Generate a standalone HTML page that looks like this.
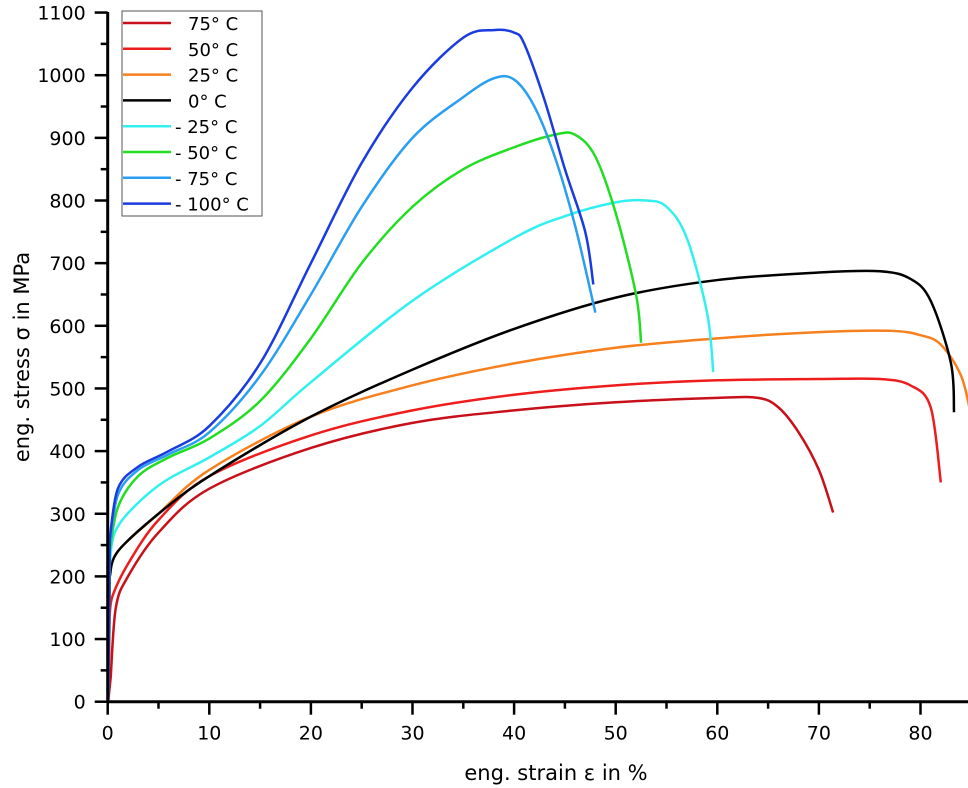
<!DOCTYPE html>
<html><head><meta charset="utf-8"><style>
body{margin:0;background:#fff;}
svg{display:block;font-family:"DejaVu Sans","Liberation Sans",sans-serif;}
</style></head><body>
<svg id="chart" width="968" height="788" viewBox="0 0 968 788"></svg>
<script>
const xTicks=[0,10,20,30,40,50,60,70,80];
const yTicks=[0,100,200,300,400,500,600,700,800,900,1000,1100];
const seriesNames=["75° C","50° C","25° C","0° C","- 25° C","- 50° C","- 75° C","- 100° C"];
const seriesColors=["#c8101a","#ee1c1c","#f7801e","#000000","#33f0f0","#22dd22","#2a9ef0","#1a3be0"];
const s75x=[0.3,0.8,2,5,10,20,30,40,50,60,64,66,68,70,71.4];
const s75y=[40,150,200,270,340,405,445,465,478,485,485,470,430,370,302];
const s50x=[0.2,0.5,2,5,10,20,30,40,50,60,70,76,79,81,82];
const s50y=[140,170,220,290,360,425,465,490,505,513,515,515,505,470,350];
const s25x=[0.2,1,5,10,20,30,40,50,60,70,77,80,82,84,85];
const s25y=[200,240,300,370,455,505,540,565,580,590,592,585,570,520,455];
const s0x=[0.2,1,5,10,20,30,40,50,60,70,76,79,81,83,83.3];
const s0y=[200,240,300,360,455,530,595,645,673,685,687,675,640,540,462];
const m25x=[0.2,1,5,10,15,20,30,40,45,50,53,55,57,59,59.6];
const m25y=[220,280,345,390,440,510,640,740,775,797,800,790,740,620,526];
const m50x=[0.2,1,3,6,10,15,20,25,30,35,40,44,46,48,50,52,52.5];
const m50y=[240,310,360,390,420,480,580,700,790,850,885,905,905,870,780,650,573];
const m75x=[0.2,1,3,6,10,15,20,25,30,35,38,40,42,44,46,48];
const m75y=[250,330,370,395,430,520,650,790,900,965,995,993,950,870,760,621];
const m100x=[0.2,1,3,6,10,15,20,25,30,35,38,40,41,43,45,47,47.8];
const m100y=[260,340,375,400,440,540,700,860,980,1060,1072,1068,1050,960,850,750,666];
const allX=[s75x,s50x,s25x,s0x,m25x,m50x,m75x,m100x];
const allY=[s75y,s50y,s25y,s0y,m25y,m50y,m75y,m100y];

const svg=document.getElementById('chart');
const NS="http://www.w3.org/2000/svg";
const X0=107.7,PX=10.16,Y0=701.7,PY=0.6265;
function sx(v){return X0+v*PX;}
function sy(v){return Y0-v*PY;}
function el(t,a){const e=document.createElementNS(NS,t);for(const k in a)e.setAttribute(k,a[k]);svg.appendChild(e);return e;}

for(let i=0;i<allX.length;i++){
  const pts=allX[i].map((x,j)=>[sx(x),sy(allY[i][j])]);
  let d="";
  for(let j=0;j<pts.length-1;j++){
    const p0=pts[Math.max(0,j-1)],p1=pts[j],p2=pts[j+1],p3=pts[Math.min(pts.length-1,j+2)];
    const c1=[p1[0]+(p2[0]-p0[0])/6,p1[1]+(p2[1]-p0[1])/6];
    const c2=[p2[0]-(p3[0]-p1[0])/6,p2[1]-(p3[1]-p1[1])/6];
    d+=" C"+c1[0]+","+c1[1]+" "+c2[0]+","+c2[1]+" "+p2[0]+","+p2[1];
  }
  const path=el('path',{d:"M"+sx(0.05)+","+sy(0)+" L"+pts[0][0]+","+pts[0][1]+d,fill:"none",stroke:seriesColors[i],"stroke-width":2.5});
  
  
}

const ya=el('line',{x1:X0,y1:12,x2:X0,y2:Y0+1,stroke:"#000","stroke-width":3});


const xa=el('line',{x1:X0-1,y1:Y0,x2:968,y2:Y0,stroke:"#000","stroke-width":3});


for(const v of yTicks){
  el('line',{x1:X0-13,y1:sy(v),x2:X0,y2:sy(v),stroke:"#000","stroke-width":2.5});
  if(v<1100)el('line',{x1:X0-7,y1:sy(v+50),x2:X0,y2:sy(v+50),stroke:"#000","stroke-width":2.5});
  const t=el('text',{x:X0-22,y:sy(v)+7,"text-anchor":"end","font-size":19});
  t.textContent=v;
  
  
}
for(const v of xTicks){
  el('line',{x1:sx(v),y1:Y0,x2:sx(v),y2:Y0+13,stroke:"#000","stroke-width":2.5});
  el('line',{x1:sx(v+5),y1:Y0,x2:sx(v+5),y2:Y0+7,stroke:"#000","stroke-width":2.5});
  const t=el('text',{x:sx(v),y:Y0+38,"text-anchor":"middle","font-size":19});
  t.textContent=v;
  
  
}
const xt=el('text',{x:556,y:780,"text-anchor":"middle","font-size":21});
xt.textContent="eng. strain ε in %";


const yt=el('text',{x:0,y:0,"text-anchor":"middle","font-size":21,transform:"translate(29,357) rotate(-90)"});
yt.textContent="eng. stress σ in MPa";



const lb=el('rect',{x:122,y:11,width:140,height:205,fill:"#fff",stroke:"#555","stroke-width":1});


for(let i=0;i<seriesNames.length;i++){
  const y=23+i*25.8;
  const l=el('line',{x1:123,y1:y,x2:171,y2:y,stroke:seriesColors[i],"stroke-width":2.5});
  
  
  const neg=seriesNames[i].startsWith('-');
  const t=el('text',{x:neg?175:188,y:y+7,"font-size":18});
  t.textContent=seriesNames[i];
  
  
}
</script>
</body></html>
